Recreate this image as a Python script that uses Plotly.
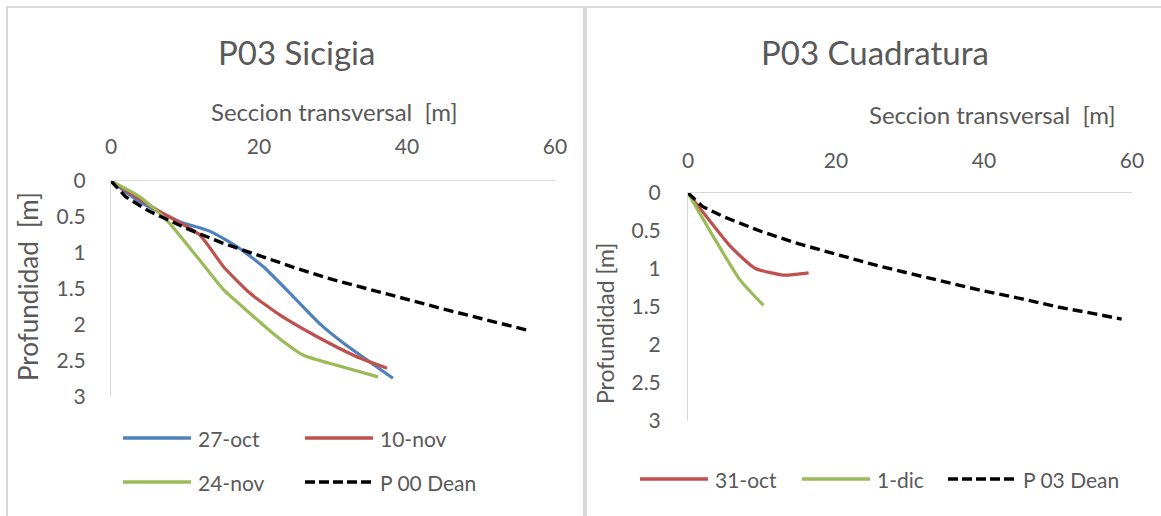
import plotly.graph_objects as go

# ---- data: P03 Sicigia -------------------------------------------------
x_27oct = [0, 3.9, 9.3, 13.4, 17.0, 20.6, 24.2, 28.2, 31.4, 38.1]
d_27oct = [0, 0.29, 0.565, 0.70, 0.91, 1.19, 1.56, 1.98, 2.25, 2.74]

x_10nov = [0, 6.2, 12.0, 15.2, 18.8, 22.8, 27.8, 33.2, 37.3]
d_10nov = [0, 0.40, 0.75, 1.19, 1.56, 1.86, 2.16, 2.44, 2.60]

x_24nov = [0, 3.9, 7.5, 11.6, 15.2, 18.8, 22.4, 26.0, 30.5, 36.1]
d_24nov = [0, 0.22, 0.54, 1.05, 1.51, 1.84, 2.16, 2.42, 2.56, 2.72]

x_dean00 = [0, 2, 5, 10, 15, 20, 25, 30, 35, 40, 45, 50, 56.2]
d_dean00 = [0, 0.22, 0.41, 0.65, 0.86, 1.04, 1.21, 1.37, 1.51, 1.65, 1.78, 1.91, 2.07]

# ---- data: P03 Cuadratura ----------------------------------------------
x_31oct = [0, 1.6, 5.7, 9.05, 12.9, 16.3]
d_31oct = [0, 0.20, 0.70, 0.99, 1.08, 1.05]

x_1dic = [0, 3.4, 7.0, 10.2]
d_1dic = [0, 0.57, 1.14, 1.48]

x_dean03 = [0, 2, 5, 10, 15, 20, 25, 30, 35, 40, 45, 50, 55, 58.6]
d_dean03 = [0, 0.18, 0.32, 0.51, 0.67, 0.81, 0.94, 1.06, 1.18, 1.29, 1.39, 1.50, 1.59, 1.66]

x_ticks = [0, 20, 40, 60]
y_ticks = [0, 0.5, 1, 1.5, 2, 2.5, 3]
y_ticktext = ["0", "0.5", "1", "1.5", "2", "2.5", "3"]

# ---- style ---------------------------------------------------------------
W, H = 1161, 516
FONT = "Lato"
GREY = "#595959"
AXIS = "#d9d9d9"
BLUE, RED, GREEN = "#4f81bd", "#c0504d", "#9bbb59"
DASH = "10px,5px"


def px(x):
    return x / W


def py(y):
    return 1 - y / H


fig = go.Figure()


def add_line(x, y, color, name, xa, ya, dash=None):
    fig.add_trace(go.Scatter(
        x=x, y=y, mode="lines", name=name, xaxis=xa, yaxis=ya,
        line=dict(color=color, width=3.4 if dash else 3.2, dash=dash,
                  shape="linear" if dash else "spline", smoothing=0.5),
        showlegend=False,
    ))


add_line(x_27oct, d_27oct, BLUE, "27-oct", "x", "y")
add_line(x_10nov, d_10nov, RED, "10-nov", "x", "y")
add_line(x_24nov, d_24nov, GREEN, "24-nov", "x", "y")
add_line(x_dean00, d_dean00, "black", "P 00 Dean", "x", "y", DASH)

add_line(x_31oct, d_31oct, RED, "31-oct", "x2", "y2")
add_line(x_1dic, d_1dic, GREEN, "1-dic", "x2", "y2")
add_line(x_dean03, d_dean03, "black", "P 03 Dean", "x2", "y2", DASH)

tickfont = dict(family=FONT, size=21, color=GREY)


def xaxis(dom, anchor, standoff):
    return dict(domain=dom, anchor=anchor, range=[0, 60], side="top",
                tickvals=x_ticks, showline=True, linecolor=AXIS, linewidth=1,
                showgrid=False, zeroline=False, ticks="", tickfont=tickfont,
                ticklabelstandoff=standoff, automargin=False,
                fixedrange=True)


def yaxis(dom, anchor, standoff):
    return dict(domain=dom, anchor=anchor, range=[3, 0], tickvals=y_ticks,
                ticktext=y_ticktext, showline=True, linecolor=AXIS,
                linewidth=1, showgrid=False, zeroline=False, ticks="",
                tickfont=tickfont, ticklabelstandoff=standoff,
                automargin=False, fixedrange=True)


fig.update_layout(
    width=W, height=H,
    margin=dict(l=0, r=0, t=0, b=0, pad=0),
    paper_bgcolor="white", plot_bgcolor="white",
    xaxis=xaxis([px(111), px(555)], "y", 18),
    yaxis=yaxis([py(397), py(181)], "x", 20),
    xaxis2=xaxis([px(688), px(1132)], "y2", 16),
    yaxis2=yaxis([py(421), py(193)], "x2", 22),
    showlegend=False,
)

# chart frames
for x0, x1 in [(7, 584), (586, 1175)]:
    fig.add_shape(type="rect", xref="paper", yref="paper",
                  x0=px(x0), x1=px(x1), y0=py(540), y1=py(7),
                  line=dict(color=AXIS, width=2), layer="below")


def text(s, x, y, size, angle=0, xanchor="center"):
    fig.add_annotation(text=s, x=px(x), y=py(y), xref="paper", yref="paper",
                       showarrow=False, textangle=angle, xanchor=xanchor,
                       yanchor="middle",
                       font=dict(family=FONT, size=size, color=GREY))


# titles
text("P03 Sicigia", 296, 52, 33)
text("P03 Cuadratura", 875, 52, 33)
# axis titles
text("Seccion transversal  [m]", 334, 112, 24)
text("Seccion transversal  [m]", 992, 115, 24)
text("Profundidad  [m]", 28, 287, 26, angle=-90)
text("Profundidad [m]", 605, 324, 23, angle=-90)

# legends
legend_items = [
    ("27-oct", BLUE, None, 123, 438),
    ("10-nov", RED, None, 305, 438),
    ("24-nov", GREEN, None, 123, 482),
    ("P 00 Dean", "black", DASH, 305, 482),
    ("31-oct", RED, None, 640, 479),
    ("1-dic", GREEN, None, 802, 479),
    ("P 03 Dean", "black", DASH, 948, 479),
]
for name, color, dash, lx, ly in legend_items:
    fig.add_shape(type="line", xref="paper", yref="paper",
                  x0=px(lx), x1=px(lx + 68), y0=py(ly), y1=py(ly),
                  line=dict(color=color, width=3.4,
                            dash="10px,4px" if dash else "solid"))
    text(name, lx + 73, ly, 21, xanchor="left")

# page body without default margin so the figure fills the window
fig.write_html("out.html", config={"displayModeBar": False},
               post_script="document.body.style.margin='0';")
